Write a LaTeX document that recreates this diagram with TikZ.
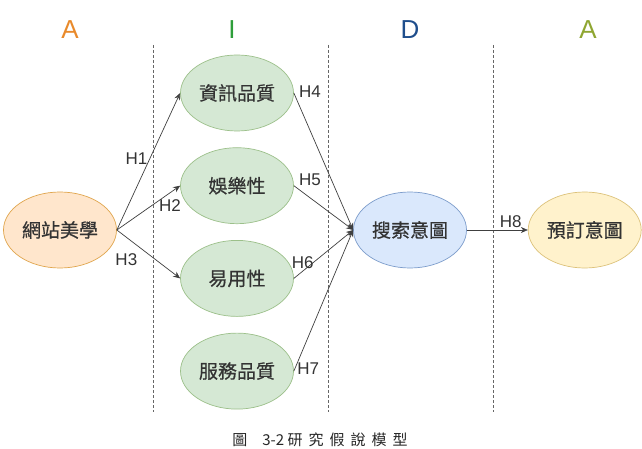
\documentclass[tikz,border=0pt]{standalone}
\usepackage{fontspec}
\setmainfont{Liberation Sans}
\newfontfamily\cjk[FakeBold=0.6]{Noto Sans CJK TC}
\newfontfamily\cjkcap{Noto Sans CJK TC}
\usetikzlibrary{positioning, arrows.meta, shapes.geometric}
\definecolor{attfill}{HTML}{FFE6CC}
\definecolor{attline}{HTML}{E0A54C}
\definecolor{intfill}{HTML}{D5E8D4}
\definecolor{intline}{HTML}{9CC08A}
\definecolor{desfill}{HTML}{DAE8FC}
\definecolor{desline}{HTML}{7C9CCB}
\definecolor{actfill}{HTML}{FFF2CC}
\definecolor{actline}{HTML}{DCC27A}

\begin{document}
\begin{tikzpicture}[
    x=1pt, y=-1pt,
    var/.style={draw, ellipse, line width=0.7pt, minimum width=113pt, minimum height=76pt, inner sep=0pt, font=\cjk\fontsize{19}{22}\selectfont, text=black!80},
    int/.style={var, fill=intfill, draw=intline},
    arr/.style={-{Stealth[length=7pt, width=6pt]}, line width=0.7pt, draw=black!75},
    hyp/.style={font=\fontsize{17}{20}\selectfont, text=black!80, inner sep=2pt},
    stage/.style={font=\fontsize{26}{30}\selectfont},
    sep/.style={densely dashed, line width=0.6pt, black!60}
]
    \useasboundingbox[fill=white] (0,0) rectangle (642,449);

    % AIDA stages
    \node[stage, text={rgb,255:red,233;green,138;blue,43}] (attn) at (70,30) {A};
    \node[stage, text={rgb,255:red,46;green,158;blue,58}] (intr) at (232,30) {I};
    \node[stage, text={rgb,255:red,31;green,78;blue,140}] (desr) at (410,30) {D};
    \node[stage, text={rgb,255:red,143;green,166;blue,49}] (actn) at (588,30) {A};

    \draw[sep] (153,45) -- (153,412);
    \draw[sep] (328,45) -- (328,412);
    \draw[sep] (493,45) -- (493,412);

    % variables
    \node[var, fill=attfill, draw=attline] (aes) at (60,230) {網站美學};
    \node[int] (info) at (237,93) {資訊品質};
    \node[int] (ent) [below=16pt of info] {娛樂性};
    \node[int] (ease) [below=16pt of ent] {易用性};
    \node[int] (serv) [below=16pt of ease] {服務品質};
    \node[var, fill=desfill, draw=desline] (search) at (410,230) {搜索意圖};
    \node[var, fill=actfill, draw=actline] (book) [right=61pt of search] {預訂意圖};

    % hypotheses
    \draw[arr] (aes.east) -- node[hyp, left, pos=0.52] {H1} (info.west);
    \draw[arr] (aes.east) -- node[hyp, below=4pt, pos=0.84] {H2} (ent.west);
    \draw[arr] (aes.east) -- node[hyp, below=14pt, pos=0.15] {H3} (ease.west);
    \draw[arr] (info.east) -- node[hyp, above right, pos=0.05] {H4} (search.west);
    \draw[arr] (ent.east) -- node[hyp, above right, pos=0.05] {H5} (search.west);
    \draw[arr] (ease.east) -- node[hyp, above, pos=0.15] {H6} (search.west);
    \draw[arr] (serv.east) -- node[hyp, right, pos=0.02] {H7} (search.west);
    \draw[arr] (search.east) -- node[hyp, above, pos=0.72] {H8} (book.west);

    \node[font=\cjkcap\fontsize{15}{17}\selectfont, text=black!85] (caption) at (320,440) {圖\hspace{1em}3-2 研\hspace{0.4em}究\hspace{0.4em}假\hspace{0.4em}說\hspace{0.4em}模\hspace{0.4em}型};
\end{tikzpicture}
\end{document}
